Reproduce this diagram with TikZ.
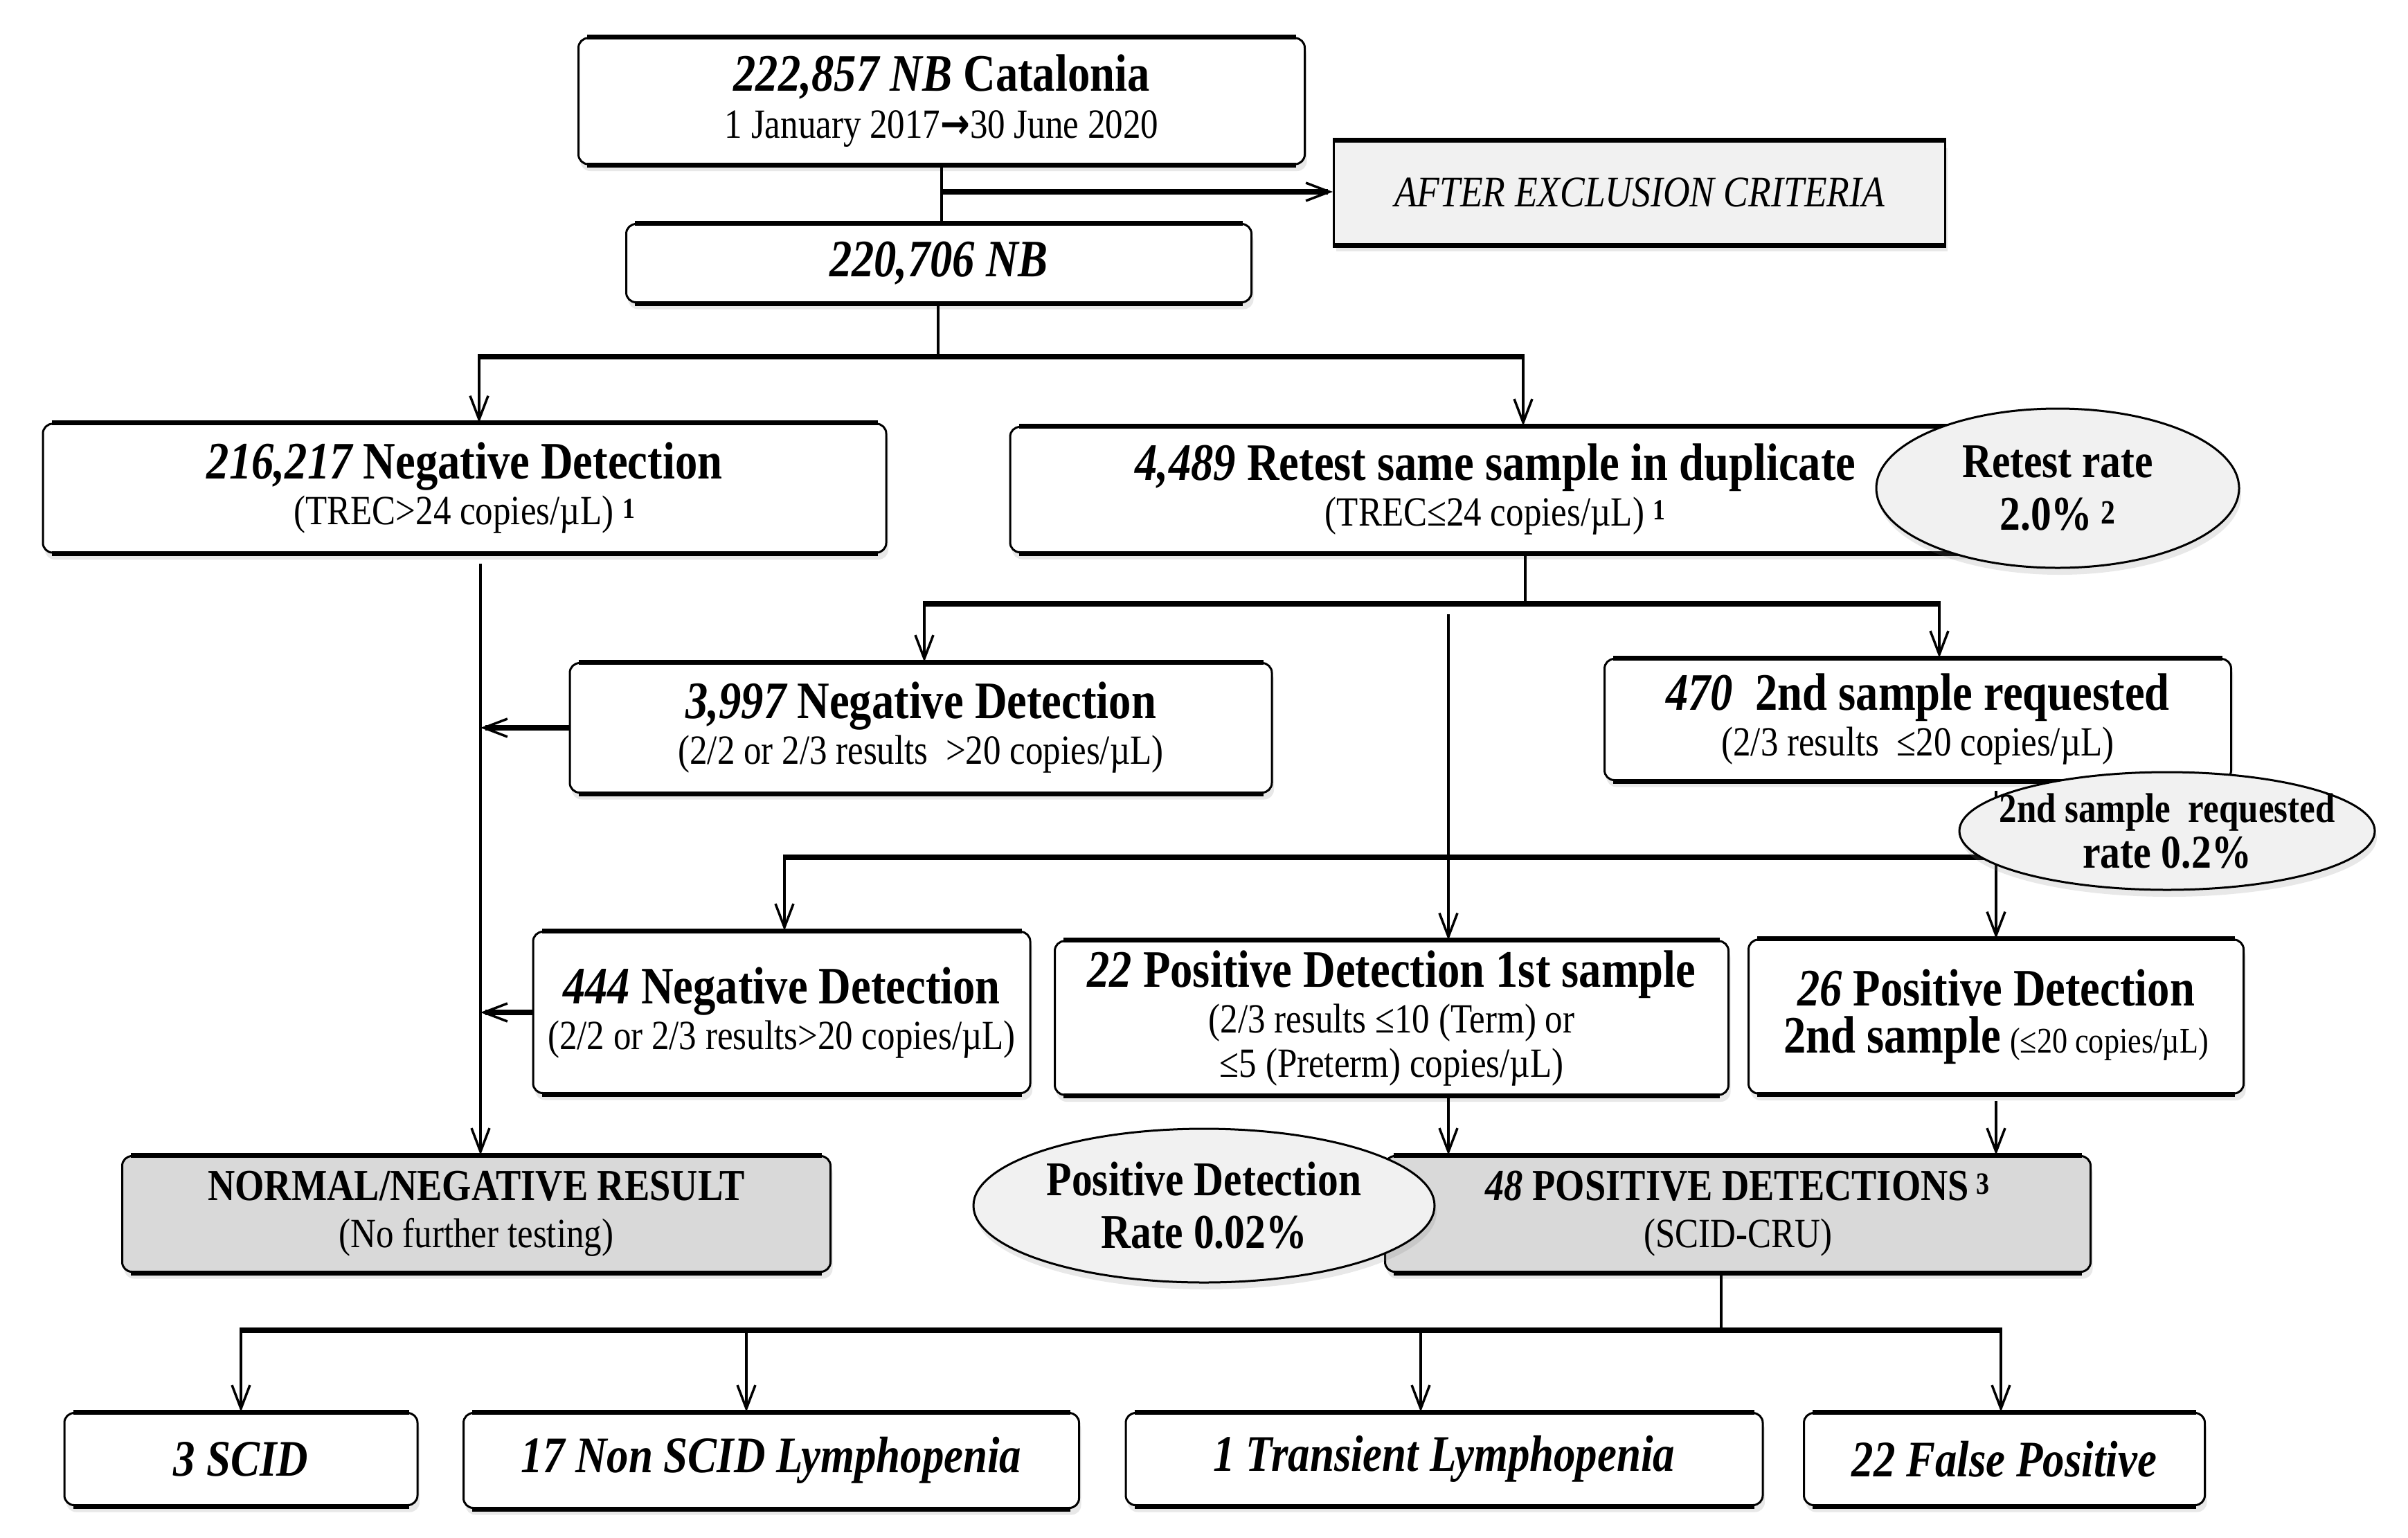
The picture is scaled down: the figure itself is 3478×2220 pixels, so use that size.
\documentclass[tikz,border=0pt]{standalone}
\usepackage{fontspec}
\setmainfont{Liberation Serif}[FakeStretch=0.85]
\newfontfamily\arrowfont{DejaVu Sans}[FakeStretch=0.85]
\usetikzlibrary{arrows.meta,shapes.geometric,shadows}
\definecolor{boxgray}{HTML}{D9D9D9}
\definecolor{lightfill}{HTML}{F1F1F1}
\newcommand\tsz{\fontsize{76}{80}\selectfont}
\newcommand\ssz{\fontsize{60}{64}\selectfont}
\newcommand\bfitx{\bfseries\itshape}
\begin{document}
\begin{tikzpicture}[x=1pt,y=-1pt,
  shade/.style={drop shadow={shadow xshift=3pt,shadow yshift=-10pt,opacity=.18}},
  box/.style={draw=black,line width=3pt,rounded corners=14pt,fill=white,align=center,inner sep=0pt,font=\ssz,shade},
  gbox/.style={box,fill=boxgray},
  sqbox/.style={draw=black,line width=3pt,fill=lightfill,align=center,inner sep=0pt,shade},
  oval/.style={ellipse,draw=black,line width=3pt,fill=lightfill,inner sep=0pt,shade},
  ovaltext/.style={align=center,font=#1\bfseries},
  edge/.style={line width=7pt},
  vline/.style={line width=3.5pt},
  hline/.style={line width=8pt},
  tip/.style={-{Straight Barb[length=34pt,width=26pt,line width=3.5pt]}},
  varr/.style={vline,tip},
  harr/.style={hline,tip},
]
\useasboundingbox (0,0) rectangle (3478,2220);

% ---------- boxes ----------
\node[box,minimum width=1049pt,minimum height=182pt] (top) at (1360,146)
  {{\tsz\bfseries{\itshape 222,857 NB} Catalonia}\\[4pt]1 January 2017{\arrowfont\bfseries →}30 June 2020};
\node[sqbox,minimum width=883pt,minimum height=149pt] (excl) at (2368,278)
  {\fontsize{63}{66}\selectfont\itshape AFTER EXCLUSION CRITERIA};
\node[box,minimum width=903pt,minimum height=113pt] (nb) at (1356,380)
  {\tsz\bfitx 220,706 NB};
\node[box,minimum width=1218pt,minimum height=186pt] (neg1) at (671,705)
  {{\tsz\bfseries{\itshape 216,217} Negative Detection}\\[2pt](TREC>24 copies/µL) \textsuperscript{\bfseries 1}};
\node[box,minimum width=1402pt,minimum height=181pt] (retest) at (2160,707)
  {{\tsz\bfseries{\itshape 4,489} Retest same sample in duplicate}\\[2pt](TREC≤24 copies/µL) \textsuperscript{\bfseries 1}};
\node[box,minimum width=1014pt,minimum height=187pt] (neg2) at (1330,1051)
  {{\tsz\bfseries{\itshape 3,997} Negative Detection}\\[2pt](2/2 or 2/3 results \ >20 copies/µL)};
\node[box,minimum width=905pt,minimum height=175pt] (s470) at (2770,1039)
  {{\tsz\bfseries{\itshape 470}\ \ 2nd sample requested}\\[2pt](2/3 results \ ≤20 copies/µL)};
\node[box,minimum width=718pt,minimum height=233pt] (neg3) at (1129,1462)
  {{\tsz\bfseries{\itshape 444} Negative Detection}\\[2pt](2/2 or 2/3 results>20 copies/µL)};
\node[box,minimum width=973pt,minimum height=222pt] (pos1) at (2010,1470)
  {{\tsz\bfseries{\itshape 22} Positive Detection 1st sample}\\[2pt](2/3 results ≤10 (Term) or\\≤5 (Preterm) copies/µL)};
\node[box,minimum width=715pt,minimum height=222pt] (pos2) at (2883,1468)
  {{\tsz\bfseries{\itshape 26} Positive Detection}\\[4pt]{\tsz\bfseries 2nd sample} {\fontsize{52}{56}\selectfont(≤20 copies/µL)}};
\node[gbox,minimum width=1023pt,minimum height=167pt] (normal) at (688,1753)
  {{\fontsize{64}{66}\selectfont\bfseries NORMAL/NEGATIVE RESULT}\\[4pt](No further testing)};
\node[gbox,minimum width=1019pt,minimum height=167pt] (pos48) at (2510,1753)
  {{\fontsize{64}{66}\selectfont\bfseries{\itshape 48} POSITIVE DETECTIONS\,\textsuperscript{3}}\\[4pt](SCID-CRU)};
\node[box,minimum width=510pt,minimum height=133pt] (scid) at (348,2107)
  {\fontsize{74}{78}\selectfont\bfitx 3 SCID};
\node[box,minimum width=889pt,minimum height=137pt] (nonscid) at (1114,2109)
  {\fontsize{74}{78}\selectfont\bfitx 17 Non SCID Lymphopenia};
\node[box,minimum width=920pt,minimum height=133pt] (trans) at (2086,2107)
  {\fontsize{74}{78}\selectfont\bfitx 1 Transient Lymphopenia};
\node[box,minimum width=579pt,minimum height=133pt] (fp) at (2895,2107)
  {\fontsize{74}{78}\selectfont\bfitx 22 False Positive};

% thick top and bottom edges
\foreach \n in {top,nb,neg1,retest,neg2,s470,neg3,pos1,pos2,normal,pos48,scid,nonscid,trans,fp}{
  \draw[edge] ([xshift=14pt]\n.north west) -- ([xshift=-14pt]\n.north east);
  \draw[edge] ([xshift=14pt]\n.south west) -- ([xshift=-14pt]\n.south east);
}
\draw[edge] (excl.north west) -- (excl.north east);
\draw[edge] (excl.south west) -- (excl.south east);

% ---------- connectors ----------
\coordinate (j1) at (1360,277);
\draw[vline] (top.south -| j1) -- (nb.north -| j1);
\draw[harr] (j1) -- (excl.west |- j1);

\coordinate (b1) at (1355,515);
\coordinate (b1l) at (692,515);
\coordinate (b1r) at (2200,515);
\draw[vline] (nb.south -| b1) -- (b1);
\draw[hline] ([xshift=-1.75pt]b1l) -- ([xshift=1.75pt]b1r);
\draw[varr] (b1l) -- (neg1.north -| b1l);
\draw[varr] (b1r) -- (retest.north -| b1r);

\coordinate (nL) at (694,814);
\draw[varr] (nL) -- (normal.north -| nL);
\draw[harr] (neg2.west) -- (neg2.west -| nL);
\draw[harr] (neg3.west) -- (neg3.west -| nL);

\coordinate (b2) at (2203,872);
\coordinate (b2l) at (1335,872);
\coordinate (b2r) at (2801,872);
\draw[vline] (retest.south -| b2) -- (b2);
\draw[hline] ([xshift=-1.75pt]b2l) -- ([xshift=1.75pt]b2r);
\draw[varr] (b2l) -- (neg2.north -| b2l);
\draw[varr] (b2r) -- (s470.north -| b2r);
\coordinate (m1) at (2092,887);
\draw[varr] (m1) -- (pos1.north -| m1);

\coordinate (s1) at (2883,1142);
\coordinate (b3) at (2883,1238);
\coordinate (b3l) at (1133,1238);
\draw[varr] (s1) -- (pos2.north -| s1);
\draw[hline] ([xshift=-1.75pt]b3l) -- ([xshift=1.75pt]b3);
\draw[varr] (b3l) -- (neg3.north -| b3l);

\coordinate (p2s) at (2883,1590);
\draw[varr] (pos1.south -| m1) -- (pos48.north -| m1);
\draw[varr] (p2s) -- (pos48.north -| p2s);

\coordinate (b4) at (2486,1921);
\coordinate (c1) at (348,1921);
\coordinate (c2) at (1078,1921);
\coordinate (c3) at (2052,1921);
\coordinate (c4) at (2890,1921);
\draw[vline] (pos48.south -| b4) -- (b4);
\draw[hline] ([xshift=-1.75pt]c1) -- ([xshift=1.75pt]c4);
\draw[varr] (c1) -- (scid.north -| c1);
\draw[varr] (c2) -- (nonscid.north -| c2);
\draw[varr] (c3) -- (trans.north -| c3);
\draw[varr] (c4) -- (fp.north -| c4);

% ---------- ellipses ----------
\node[oval,minimum width=524pt,minimum height=230pt,
  label={[ovaltext=\fontsize{70}{72}\selectfont]center:Retest rate\\[4pt]2.0\%\,\textsuperscript{2}}] (rrate) at (2972,705) {};
\node[oval,minimum width=600pt,minimum height=170pt,
  label={[ovaltext=\fontsize{60}{64}\selectfont]center:2nd sample \ requested\\[2pt]{\fontsize{68}{70}\selectfont rate 0.2\%}}] (srate) at (3130,1200) {};
\node[oval,minimum width=666pt,minimum height=222pt,
  label={[ovaltext=\fontsize{70}{72}\selectfont]center:Positive Detection\\[4pt]Rate 0.02\%}] (prate) at (1739,1741) {};
\end{tikzpicture}
\end{document}
